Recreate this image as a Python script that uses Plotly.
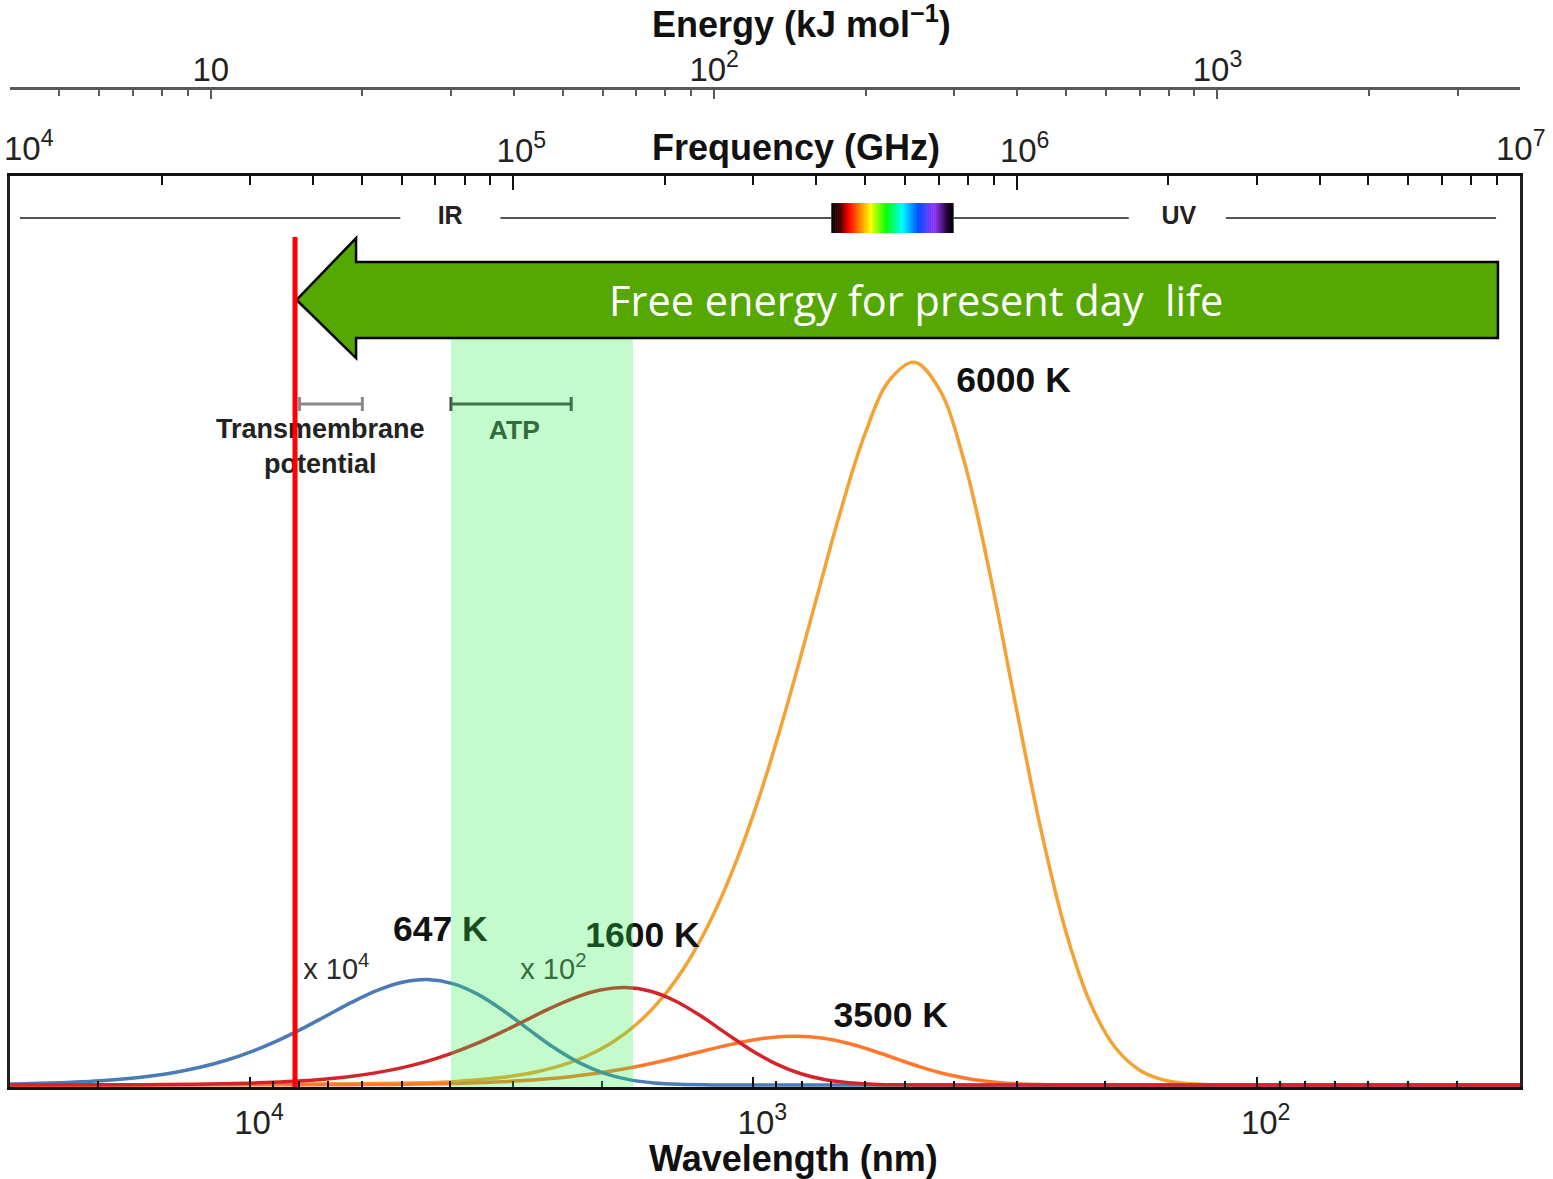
import math
import plotly.graph_objects as go

LOG = math.log10

# ---------------------------------------------------------------------------
# Black-body spectra: spectral radiance per unit wavelength, sampled against
# frequency (GHz). Radiance is relative to the 6000 K maximum; the 1600 K
# curve is shown x10^2 and the 647 K curve x10^4.
# ---------------------------------------------------------------------------
nu_6000 = [10000, 70290, 78870, 88490, 99290, 111400, 125000, 140300, 157400,
           176600, 198100, 222300, 249400, 279800, 314000, 352300, 395300,
           443500, 497600, 558400, 626500, 702900, 788700, 884900, 992900,
           1114000, 1250000, 1402500, 1573600, 1765600, 1981100, 2222900,
           2494100, 10000000]
b_6000 = [0.0, 0.00351, 0.00536, 0.00815, 0.01229, 0.01844, 0.02745, 0.04050,
          0.05916, 0.08539, 0.12159, 0.17050, 0.23476, 0.31646, 0.41632,
          0.53258, 0.65930, 0.78600, 0.89720, 0.97448, 0.99980, 0.96170,
          0.85953, 0.70703, 0.52977, 0.35733, 0.21415, 0.11243, 0.05085,
          0.01947, 0.00617, 0.00159, 0.00032, 0.0]

nu_3500 = [10000, 41000, 46010, 51620, 57920, 64990, 72920, 81810, 91800,
           103000, 115570, 129670, 145490, 163240, 183160, 205510, 230590,
           258720, 290290, 325710, 365450, 410040, 460080, 516220, 579200,
           649870, 729170, 818130, 917950, 1029950, 1155660, 1296680,
           1454910, 10000000]
b_3500 = [0.0, 0.000237, 0.000362, 0.000550, 0.000830, 0.001245, 0.001854,
          0.002735, 0.003996, 0.005767, 0.008212, 0.011516, 0.015856,
          0.021374, 0.028118, 0.035970, 0.044529, 0.053086, 0.060597,
          0.065816, 0.067526, 0.064953, 0.058053, 0.047753, 0.035780,
          0.024134, 0.014464, 0.007593, 0.003434, 0.001315, 0.000417,
          0.000107, 0.000022, 0.0]

nu_1600 = [10000, 18740, 21030, 23600, 26480, 29710, 33330, 37400, 41960,
           47080, 52830, 59280, 66510, 74620, 83730, 93950, 105410, 118270,
           132700, 148890, 167060, 187450, 210320, 235980, 264780, 297080,
           333330, 374000, 419630, 470830, 528300, 592770, 665100, 10000000]
b_1600 = [0.0, 0.000473, 0.000723, 0.001099, 0.001657, 0.002487, 0.003702,
          0.005461, 0.007978, 0.011515, 0.016396, 0.022992, 0.031657,
          0.042675, 0.056141, 0.071819, 0.088907, 0.105992, 0.120988,
          0.131409, 0.134823, 0.129685, 0.115908, 0.095343, 0.071439,
          0.048186, 0.028878, 0.015161, 0.006857, 0.002626, 0.000832,
          0.000214, 0.000043, 0.0]

nu_647 = [7579, 8505, 9542, 10707, 12014, 13479, 15124, 16969, 19039, 21363,
          23970, 26895, 30176, 33858, 37990, 42625, 47826, 53662, 60209,
          67556, 75800, 85049, 95426, 107070, 120133, 134792, 151237, 169689,
          190394, 213632, 239701, 268951, 10000000]
b_647 = [0.000512, 0.000781, 0.001188, 0.001792, 0.002689, 0.004002, 0.005905,
         0.008626, 0.012450, 0.017728, 0.024859, 0.034228, 0.046140, 0.060699,
         0.077650, 0.096126, 0.114599, 0.130812, 0.142079, 0.145771, 0.140216,
         0.125319, 0.103085, 0.077240, 0.052099, 0.031223, 0.016392, 0.007414,
         0.002839, 0.000900, 0.000232, 0.000047, 0.0]

# Biological free-energy scales (kJ/mol)
transmembrane_kj = [15, 20]
atp_kj = [30, 52]
atp_band_kj = [30, 69]
threshold_kj = 14.7          # red line: lower limit of useful free energy

# Visible window (nm) drawn as the spectrum strip
visible_nm = [700, 400]

# Axis tick labels (the two end frequency labels are placed as annotations)
freq_ticks = [1e4, 1e5, 1e6, 1e7]
freq_ticktext = ["", "10<sup>5</sup>", "10<sup>6</sup>", ""]
freq_end_labels = ["10<sup>4</sup>", "10<sup>7</sup>"]
energy_ticks = [10, 100, 1000]
energy_ticktext = ["10", "10<sup>2</sup>", "10<sup>3</sup>"]
wl_ticks = [100, 1000, 10000]
wl_ticktext = ["10<sup>2</sup>", "10<sup>3</sup>", "10<sup>4</sup>"]

# ---------------------------------------------------------------------------
# unit conversions between the three horizontal scales
C_NM_GHZ = 2.99792458e8      # c in nm*GHz
KJ_PER_GHZ = 3.99031e-4      # h*N_A in kJ/mol per GHz


def ghz_from_kj(e):
    return e / KJ_PER_GHZ


def ghz_from_nm(lam):
    return C_NM_GHZ / lam


freq_range = [1e4, 1e7]
wl_range = [C_NM_GHZ / f for f in freq_range]
en_range = [KJ_PER_GHZ * f for f in freq_range]
Y_RANGE = [-0.00277, 1.2573]


def fx(nu):
    """Horizontal paper fraction of a frequency (GHz) on the log frequency axis."""
    lo, hi = LOG(freq_range[0]), LOG(freq_range[1])
    return (LOG(nu) - lo) / (hi - lo)


def minor_ticks(lo, hi):
    a, b = sorted([lo, hi])
    vals = []
    for d in range(math.floor(LOG(a)) - 1, math.ceil(LOG(b)) + 1):
        for m in range(2, 10):
            v = m * 10 ** d
            if a <= v <= b:
                vals.append(v)
    return vals


SANS = "Liberation Sans, Arial, Helvetica, sans-serif"

fig = go.Figure()

# ---- spectra ----
curves = [
    (nu_6000, b_6000, "#f4a233"),
    (nu_3500, b_3500, "#ff782c"),
    (nu_647, b_647, "#4a7bb6"),
    (nu_1600, b_1600, "#d3242c"),
]
for nu, b, color in curves:
    fig.add_trace(go.Scatter(
        x=nu, y=b, mode="lines", line=dict(color=color, width=3.5, shape="spline", smoothing=1.0),
        hoverinfo="skip", showlegend=False))

# ---- IR / visible / UV row ----
ROW_Y = 1.1992
row_segments = [(1.047e4, 5.963e4), (9.424e4, ghz_from_nm(visible_nm[0])),
                (ghz_from_nm(visible_nm[1]), 1.670e6), (2.604e6, 8.963e6)]
seg_x, seg_y = [], []
for a, b in row_segments:
    seg_x += [a, b, None]
    seg_y += [ROW_Y, ROW_Y, None]
fig.add_trace(go.Scatter(x=seg_x, y=seg_y, mode="lines",
                         line=dict(color="#555555", width=2),
                         hoverinfo="skip", showlegend=False))

# ---- energy-scale bars (transmembrane potential, ATP) ----
BAR_Y = 0.942
for (lo, hi), col in [(transmembrane_kj, "#8a8a8a"), (atp_kj, "#444444")]:
    f0, f1 = ghz_from_kj(lo), ghz_from_kj(hi)
    fig.add_trace(go.Scatter(
        x=[f0], y=[BAR_Y], mode="markers",
        marker=dict(size=1, color="rgba(0,0,0,0)"),
        error_x=dict(type="data", symmetric=False, array=[f1 - f0], arrayminus=[0],
                     color=col, thickness=3, width=7),
        hoverinfo="skip", showlegend=False))

# ---- text labels inside the plot (drawn as text traces) ----
labels = [
    (9.86e5, 0.971, "<b>6000 K</b>", 35.5, "#111111"),
    (5.62e5, 0.0927, "<b>3500 K</b>", 35.5, "#111111"),
    (7.16e4, 0.2116, "<b>647 K</b>", 35.5, "#111111"),
    (1.805e5, 0.2033, "<b>1600 K</b>", 35.5, "#111111"),
    (4.45e4, 0.1563, "x 10<sup>4</sup>", 29, "#2a2a2a"),
    (1.201e5, 0.1563, "x 10<sup>2</sup>", 29, "#3a3a3a"),
    (4.133e4, 0.8800, "<b>Transmembrane<br>potential</b>", 27, "#222222"),
    (1.0046e5, 0.903, "<b>ATP</b>", 26.5, "#3a3a3a"),
    (7.49e4, ROW_Y, "<b>IR</b>", 25, "#222222"),
    (2.10e6, ROW_Y, "<b>UV</b>", 25, "#222222"),
]
for x, y, t, s, c in labels:
    fig.add_trace(go.Scatter(
        x=[x], y=[y], mode="text", text=[t], textposition="middle center",
        textfont=dict(family=SANS, size=s, color=c),
        hoverinfo="skip", showlegend=False))

# invisible traces so the wavelength and energy axes are attached
fig.add_trace(go.Scatter(x=[100, 1000], y=[-1, -1], xaxis="x2", yaxis="y", mode="markers",
                         marker=dict(size=1, color="rgba(0,0,0,0)"), hoverinfo="skip",
                         showlegend=False))
fig.add_trace(go.Scatter(x=[10, 100], y=[-1, -1], xaxis="x3", yaxis="y", mode="markers",
                         marker=dict(size=1, color="rgba(0,0,0,0)"), hoverinfo="skip",
                         showlegend=False))

# ---- shapes (x in paper fractions of the log-frequency axis) ----
shapes = []

# visible spectrum strip
spectrum_stops = [(0.00, (0, 0, 0)), (0.07, (70, 0, 0)), (0.14, (255, 0, 0)),
                  (0.24, (255, 140, 0)), (0.32, (255, 255, 0)), (0.45, (0, 255, 0)),
                  (0.58, (0, 255, 255)), (0.71, (0, 80, 255)), (0.84, (150, 50, 255)),
                  (0.95, (30, 0, 50)), (1.00, (0, 0, 0))]


def spectrum_color(f):
    for (f0, c0), (f1, c1) in zip(spectrum_stops[:-1], spectrum_stops[1:]):
        if f0 <= f <= f1:
            t = (f - f0) / (f1 - f0)
            return "rgb(%d,%d,%d)" % tuple(round(a + (b - a) * t) for a, b in zip(c0, c1))
    return "rgb(0,0,0)"


pv0, pv1 = fx(ghz_from_nm(visible_nm[0])), fx(ghz_from_nm(visible_nm[1]))
n_slices = 60
for i in range(n_slices):
    f0, f1 = i / n_slices, (i + 1) / n_slices
    shapes.append(dict(type="rect", xref="paper", yref="y", layer="above",
                       x0=pv0 + f0 * (pv1 - pv0), x1=pv0 + min(1.0, f1 + 0.004) * (pv1 - pv0),
                       y0=1.1784, y1=1.2199, fillcolor=spectrum_color((f0 + f1) / 2),
                       line=dict(width=0)))

# translucent ATP band
shapes.append(dict(type="rect", xref="paper", yref="y", layer="above",
                   x0=fx(ghz_from_kj(atp_band_kj[0])), x1=fx(ghz_from_kj(atp_band_kj[1])),
                   y0=Y_RANGE[0], y1=1.13, fillcolor="rgba(40,240,75,0.28)",
                   line=dict(width=0)))

# big arrow: free energy for present day life
tip = fx(ghz_from_kj(threshold_kj)) + 0.001
head = fx(4.87e4)
tail = fx(9.04e6)
path = ("M {t},1.0858 L {h},1.1715 L {h},1.1383 L {e},1.1383 L {e},1.0332 "
        "L {h},1.0332 L {h},1.0055 Z").format(t=tip, h=head, e=tail)
shapes.append(dict(type="path", xref="paper", yref="y", layer="above", path=path,
                   fillcolor="#55a802", line=dict(color="#000000", width=2.5)))

# red threshold line
xr = fx(ghz_from_kj(threshold_kj))
shapes.append(dict(type="line", xref="paper", yref="y", layer="above",
                   x0=xr, x1=xr, y0=Y_RANGE[0], y1=1.1729,
                   line=dict(color="#ff0000", width=5)))

TITLE_FONT = dict(family=SANS, size=36, color="#111111")
tick_font = dict(family=SANS, size=33, color="#222222")
annotations = [
    dict(xref="paper", yref="y", x=fx(6.3e5), y=1.0858, showarrow=False,
         text="Free energy for present day  life", xanchor="center", yanchor="middle",
         font=dict(family="Open Sans, Noto Sans, sans-serif", size=41.5, color="white")),
    dict(xref="paper", yref="paper", x=0.5245, y=1.0665, showarrow=False,
         text="<b>Energy (kJ mol<sup>\u22121</sup>)</b>", xanchor="center", yanchor="middle",
         font=TITLE_FONT),
    dict(xref="paper", yref="paper", x=0.5205, y=0.9409, showarrow=False,
         text="<b>Frequency (GHz)</b>", xanchor="center", yanchor="middle",
         font=TITLE_FONT),
    dict(xref="paper", yref="paper", x=0.519, y=-0.0715, showarrow=False,
         text="<b>Wavelength (nm)</b>", xanchor="center", yanchor="middle",
         font=TITLE_FONT),
    # end labels of the frequency axis, kept inside the page
    dict(xref="paper", yref="paper", x=-0.005, y=0.9415, showarrow=False,
         text=freq_end_labels[0], xanchor="left", yanchor="middle", font=tick_font),
    dict(xref="paper", yref="paper", x=1.0185, y=0.9415, showarrow=False,
         text=freq_end_labels[1], xanchor="right", yanchor="middle", font=tick_font),
]

fig.update_layout(
    width=1553, height=1179,
    margin=dict(l=10, r=33, t=88, b=92, autoexpand=False),
    paper_bgcolor="white", plot_bgcolor="white",
    showlegend=False,
    shapes=shapes,
    annotations=annotations,
    xaxis=dict(
        type="log", range=[LOG(freq_range[0]), LOG(freq_range[1])], side="top", anchor="y",
        domain=[0, 1], showline=True, linecolor="#111111", linewidth=3,
        ticks="inside", ticklen=14, tickwidth=2, tickcolor="#111111",
        tickmode="array", tickvals=freq_ticks, ticktext=freq_ticktext,
        minor=dict(tickmode="array", tickvals=minor_ticks(*freq_range), ticks="inside",
                   ticklen=9, tickwidth=2, tickcolor="#111111", showgrid=False),
        tickfont=tick_font, showgrid=False, zeroline=False, automargin=False,
        ticklabelshift=8, ticklabelstandoff=-2, ticklabeloverflow="allow", fixedrange=True),
    xaxis2=dict(
        type="log", range=[LOG(wl_range[0]), LOG(wl_range[1])], overlaying="x",
        side="bottom", anchor="y", showline=True, linecolor="#111111", linewidth=3,
        ticks="inside", ticklen=10, tickwidth=2, tickcolor="#111111",
        tickmode="array", tickvals=wl_ticks, ticktext=wl_ticktext,
        minor=dict(tickmode="array", tickvals=minor_ticks(*wl_range), ticks="inside",
                   ticklen=6, tickwidth=2, tickcolor="#111111", showgrid=False),
        tickfont=tick_font, showgrid=False, zeroline=False, automargin=False,
        ticklabelshift=-9, ticklabelstandoff=4, ticklabeloverflow="allow", fixedrange=True),
    xaxis3=dict(
        type="log", range=[LOG(en_range[0]), LOG(en_range[1])], overlaying="x",
        side="top", anchor="free", position=1.0, showline=True, linecolor="#5a5a5a",
        linewidth=3, ticks="inside", ticklen=9, tickwidth=2, tickcolor="#5a5a5a",
        tickmode="array", tickvals=energy_ticks, ticktext=energy_ticktext,
        minor=dict(tickmode="array", tickvals=minor_ticks(*en_range), ticks="inside",
                   ticklen=6, tickwidth=2, tickcolor="#5a5a5a", showgrid=False),
        tickfont=tick_font, showgrid=False, zeroline=False, automargin=False,
        ticklabelstandoff=-7, ticklabeloverflow="allow", fixedrange=True),
    yaxis=dict(
        domain=[0, 911 / 999], range=Y_RANGE, showticklabels=False, ticks="",
        showline=True, mirror=True, linecolor="#222222", linewidth=3, automargin=False,
        showgrid=False, zeroline=False, fixedrange=True),
)

fig.write_html("out.html")
